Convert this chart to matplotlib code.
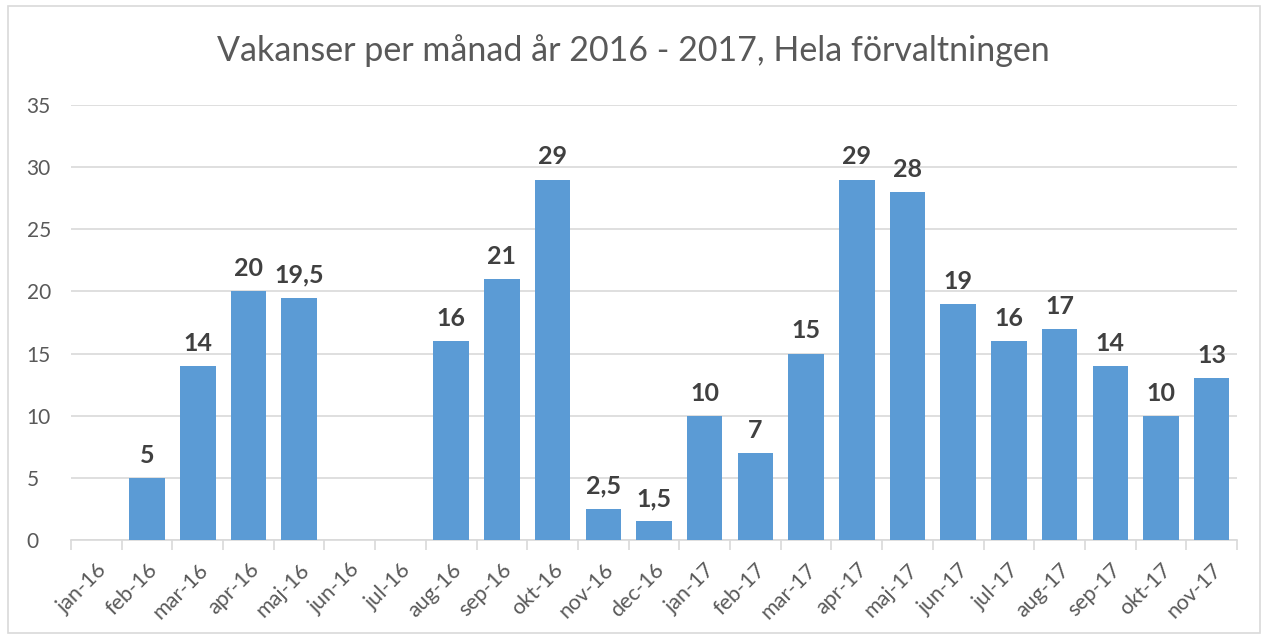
import matplotlib.pyplot as plt
import numpy as np

plt.rcParams['font.family'] = ['Lato', 'DejaVu Sans']

# monthly vacancies (None = no value that month)
months = ['jan-16', 'feb-16', 'mar-16', 'apr-16', 'maj-16', 'jun-16', 'jul-16',
          'aug-16', 'sep-16', 'okt-16', 'nov-16', 'dec-16', 'jan-17', 'feb-17',
          'mar-17', 'apr-17', 'maj-17', 'jun-17', 'jul-17', 'aug-17', 'sep-17',
          'okt-17', 'nov-17']
vacancies = [None, 5, 14, 20, 19.5, None, None, 16, 21, 29, 2.5, 1.5,
             10, 7, 15, 29, 28, 19, 16, 17, 14, 10, 13]

fig = plt.figure(figsize=(12.66, 6.37), dpi=100)
ax = fig.add_axes([0.0561, 0.1523, 0.9210, 0.6829])

x = np.arange(len(months))
vals = np.array([np.nan if v is None else v for v in vacancies], dtype=float)
ax.bar(x, np.nan_to_num(vals), width=0.7, color='#5B9BD5', zorder=3)

# data labels
for xi, v in zip(x, vacancies):
    if v is None:
        continue
    txt = ('%g' % v).replace('.', ',')
    ax.text(xi, v + 0.9, txt, ha='center', va='bottom', fontsize=18,
            fontweight='bold', color='#404040')

ax.set_xlim(-0.5, len(months) - 0.5)
ax.set_ylim(0, 35)
ax.set_yticks(range(0, 36, 5))
ax.yaxis.grid(True, color='#d9d9d9', linewidth=1.2, zorder=0)
ax.tick_params(axis='y', length=0, labelsize=15, labelcolor='#595959', pad=32)
for lab in ax.get_yticklabels():
    lab.set_horizontalalignment('left')

ax.set_xticks(x)
ax.set_xticklabels(months, rotation=45, ha='right', rotation_mode='anchor')
ax.tick_params(axis='x', length=0, labelsize=15.5, labelcolor='#595959', pad=14)
ax.set_xticks(np.arange(-0.5, len(months), 1), minor=True)
ax.tick_params(axis='x', which='minor', length=7, color='#d9d9d9', width=1.2)

for s in ['top', 'right', 'left']:
    ax.spines[s].set_visible(False)
ax.spines['bottom'].set_color('#d9d9d9')
ax.spines['bottom'].set_linewidth(1.2)

fig.text(0.5, 0.92, 'Vakanser per månad år 2016 - 2017, Hela förvaltningen',
         ha='center', va='center', fontsize=24.5, color='#595959')

# chart border
fig.patches.append(plt.Rectangle((0.006, 0.006), 0.989, 0.984,
                                 transform=fig.transFigure, fill=False,
                                 edgecolor='#d9d9d9', linewidth=1.2))

fig.savefig('out.png', dpi=100)
